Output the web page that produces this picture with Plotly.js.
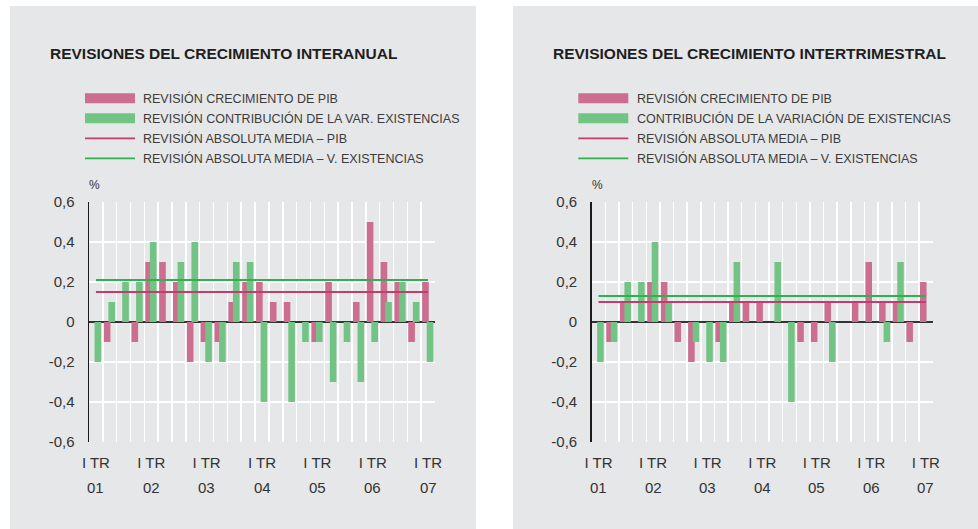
<!DOCTYPE html>
<html><head><meta charset="utf-8">
<script src="https://cdn.plot.ly/plotly-3.0.1.min.js"></script>
<style>html,body{margin:0;padding:0;background:#fff}#chart{width:978px;height:529px}</style>
</head><body><div id="chart"></div>
<script>
// ---------- DATA ----------
const quarters = ['I TR 01','II TR 01','III TR 01','IV TR 01',
  'I TR 02','II TR 02','III TR 02','IV TR 02',
  'I TR 03','II TR 03','III TR 03','IV TR 03',
  'I TR 04','II TR 04','III TR 04','IV TR 04',
  'I TR 05','II TR 05','III TR 05','IV TR 05',
  'I TR 06','II TR 06','III TR 06','IV TR 06',
  'I TR 07'];
const quarterTick = 'I TR';
const yearLabels = ['01','02','03','04','05','06','07'];

// Left chart: interanual
const interanualPIB   = [0,-0.1,0,-0.1,0.3,0.3,0.2,-0.2,-0.1,-0.1,0.1,0.2,0.2,0.1,0.1,0,-0.1,0.2,0,0.1,0.5,0.3,0.2,-0.1,0.2];
const interanualExist = [-0.2,0.1,0.2,0.2,0.4,0,0.3,0.4,-0.2,-0.2,0.3,0.3,-0.4,0,-0.4,-0.1,-0.1,-0.3,-0.1,-0.3,-0.1,0.1,0.2,0.1,-0.2];
const interanualMeanPIB   = 0.15;
const interanualMeanExist = 0.21;

// Right chart: intertrimestral
const intertrimPIB   = [0,-0.1,0.1,0,0.2,0.2,-0.1,-0.2,0,-0.1,0.1,0.1,0.1,0,0,-0.1,-0.1,0.1,0,0.1,0.3,0.1,0.1,-0.1,0.2];
const intertrimExist = [-0.2,-0.1,0.2,0.2,0.4,0.1,0,-0.1,-0.2,-0.2,0.3,0,0,0.3,-0.4,0,0,-0.2,0,0,0,-0.1,0.3,0,0];
const intertrimMeanPIB   = 0.10;
const intertrimMeanExist = 0.13;

const yTickVals = [-0.6,-0.4,-0.2,0,0.2,0.4,0.6];
const yTickText = ['-0,6','-0,4','-0,2','0','0,2','0,4','0,6'];

const titles = ['REVISIONES DEL CRECIMIENTO INTERANUAL','REVISIONES DEL CRECIMIENTO INTERTRIMESTRAL'];
const interanualLegend = ['REVISIÓN CRECIMIENTO DE PIB','REVISIÓN CONTRIBUCIÓN DE LA VAR. EXISTENCIAS','REVISIÓN ABSOLUTA MEDIA – PIB','REVISIÓN ABSOLUTA MEDIA – V. EXISTENCIAS'];
const intertrimLegend  = ['REVISIÓN CRECIMIENTO DE PIB','CONTRIBUCIÓN DE LA VARIACIÓN DE EXISTENCIAS','REVISIÓN ABSOLUTA MEDIA – PIB','REVISIÓN ABSOLUTA MEDIA – V. EXISTENCIAS'];
const unitLabel = '%';

// ---------- STYLE ----------
const W = 978, H = 529;
const PINK = '#cc6e8f', GREEN = '#72c485', PINK_LINE = '#c23d6c', GREEN_LINE = '#2eb24b';
const PANEL = '#e6e7e8';
const FONT = '"Liberation Sans", Arial, Helvetica, sans-serif';
const px = x => x / W;
const py = y => 1 - y / H;

const idx = quarters.map((_, i) => i);
const majorIdx = idx.filter(i => quarters[i].startsWith(quarterTick + ' '));
const minorVals = idx.map(i => i - 0.5).concat([quarters.length - 0.5]);
const xRange = [-0.5, quarters.length - 0.5];

function barTrace(y, name, color, offset, xa, ya) {
  return {type: 'bar', x: idx, y: y, name: name, xaxis: xa, yaxis: ya,
    width: 0.48, offset: offset, marker: {color: color, line: {width: 0}},
    showlegend: false, hoverinfo: 'y'};
}
function meanTrace(m, name, color, xa, ya) {
  return {type: 'scatter', mode: 'lines', x: [idx[0], idx[idx.length - 1]], y: [m, m],
    name: name, xaxis: xa, yaxis: ya, line: {color: color, width: 2}, showlegend: false, hoverinfo: 'y'};
}

const data = [
  barTrace(interanualPIB, interanualLegend[0], PINK, -0.43, 'x', 'y'),
  barTrace(interanualExist, interanualLegend[1], GREEN, -0.1, 'x', 'y'),
  meanTrace(interanualMeanPIB, interanualLegend[2], PINK_LINE, 'x', 'y'),
  meanTrace(interanualMeanExist, interanualLegend[3], GREEN_LINE, 'x', 'y'),
  barTrace(intertrimPIB, intertrimLegend[0], PINK, -0.43, 'x2', 'y2'),
  barTrace(intertrimExist, intertrimLegend[1], GREEN, -0.1, 'x2', 'y2'),
  meanTrace(intertrimMeanPIB, intertrimLegend[2], PINK_LINE, 'x2', 'y2'),
  meanTrace(intertrimMeanExist, intertrimLegend[3], GREEN_LINE, 'x2', 'y2')
];

const tickFont = {family: FONT, size: 15, color: '#333'};
function xAxis(domain, anchor) {
  return {domain: domain, anchor: anchor, range: xRange, tickmode: 'array',
    tickvals: majorIdx, ticktext: majorIdx.map(() => quarterTick), ticks: '', showgrid: false,
    zeroline: false, showline: false, tickfont: tickFont, ticklabelstandoff: 10,
    minor: {tickmode: 'array', tickvals: minorVals, showgrid: true, gridcolor: '#ffffff', gridwidth: 1.5, ticks: ''},
    fixedrange: true};
}
function yAxis(anchor) {
  return {domain: [py(442), py(202)], anchor: anchor, range: [-0.6, 0.6], tickmode: 'array',
    tickvals: yTickVals, ticktext: yTickText, ticks: '', showgrid: true, gridcolor: '#ffffff', gridwidth: 1.5,
    zeroline: true, zerolinecolor: '#333333', zerolinewidth: 1.5,
    showline: true, linecolor: '#1a1a1a', linewidth: 1.5, tickfont: tickFont, ticklabelstandoff: 10,
    fixedrange: true};
}

const shapes = [
  {type: 'rect', xref: 'paper', yref: 'paper', x0: px(10), x1: px(476), y0: 0, y1: py(6), fillcolor: PANEL, line: {width: 0}, layer: 'below'},
  {type: 'rect', xref: 'paper', yref: 'paper', x0: px(513), x1: 1, y0: 0, y1: py(6), fillcolor: PANEL, line: {width: 0}, layer: 'below'}
];
const annotations = [];
const legendRowsY = [98.3, 118.3, 138.3, 158.3];
const panels = [
  {xref: 'x', titleX: 49, symX: 85, textX: 142, unitX: 88, legend: interanualLegend, title: titles[0]},
  {xref: 'x2', titleX: 551.5, symX: 578.3, textX: 635.5, unitX: 590.5, legend: intertrimLegend, title: titles[1]}
];
const symColors = [PINK, GREEN, PINK_LINE, GREEN_LINE];
panels.forEach(p => {
  annotations.push({xref: 'paper', yref: 'paper', x: px(p.titleX), y: py(53.5), xanchor: 'left', yanchor: 'middle',
    text: p.title, showarrow: false, borderpad: 0, font: {family: FONT, size: 15.5, color: '#1e1e1e', weight: 'bold'}});
  annotations.push({xref: 'paper', yref: 'paper', x: px(p.unitX), y: py(185), xanchor: 'left', yanchor: 'middle',
    text: unitLabel, showarrow: false, borderpad: 0, font: {family: FONT, size: 12, color: '#333'}});
  // year row under the "I TR" tick labels
  majorIdx.forEach((xi, k) => {
    annotations.push({xref: p.xref, yref: 'paper', x: xi, y: py(487.5), xanchor: 'center', yanchor: 'middle',
      text: yearLabels[k], showarrow: false, borderpad: 0, font: tickFont});
  });
  p.legend.forEach((lab, i) => {
    const yc = legendRowsY[i];
    if (i < 2) {
      shapes.push({type: 'rect', xref: 'paper', yref: 'paper', x0: px(p.symX), x1: px(p.symX + 50),
        y0: py(yc - 5), y1: py(yc + 5), fillcolor: symColors[i], line: {width: 0}});
    } else {
      shapes.push({type: 'line', xref: 'paper', yref: 'paper', x0: px(p.symX), x1: px(p.symX + 50),
        y0: py(yc), y1: py(yc), line: {color: symColors[i], width: 1.8}});
    }
    annotations.push({xref: 'paper', yref: 'paper', x: px(p.textX), y: py(yc), xanchor: 'left', yanchor: 'middle',
      text: lab, showarrow: false, borderpad: 0, font: {family: FONT, size: 12.5, color: '#3c3c3c'}});
  });
});

const layout = {
  width: W, height: H, margin: {l: 0, r: 0, t: 0, b: 0},
  paper_bgcolor: '#ffffff', plot_bgcolor: PANEL, barmode: 'overlay', showlegend: false,
  font: {family: FONT, color: '#333'},
  xaxis: xAxis([px(89), px(435)], 'y'),
  xaxis2: xAxis([px(591.7), px(932.7)], 'y2'),
  yaxis: yAxis('x'),
  yaxis2: yAxis('x2'),
  shapes: shapes, annotations: annotations
};

Plotly.newPlot('chart', data, layout, {displayModeBar: false, staticPlot: true});
</script></body></html>
